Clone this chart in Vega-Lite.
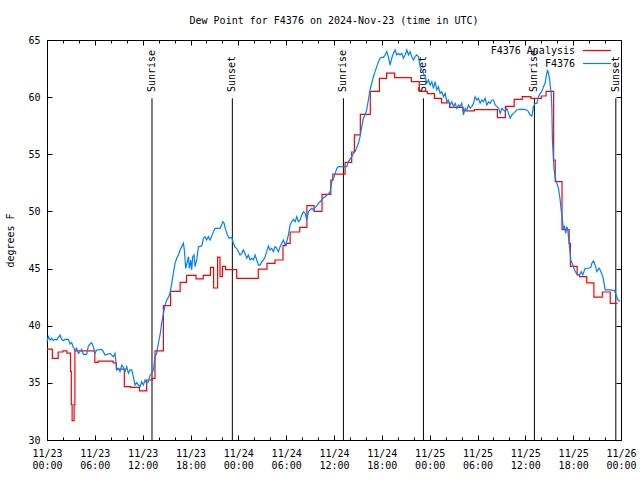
{
  "$schema": "https://vega.github.io/schema/vega-lite/v6.json",
  "width": 574,
  "height": 400,
  "autosize": {"type": "none"},
  "padding": {"left": 47, "top": 40, "right": 19, "bottom": 40},
  "background": "white",
  "title": {"text": "Dew Point for F4376 on 2024-Nov-23 (time in UTC)", "font": "DejaVu Sans Mono", "fontSize": 10, "fontWeight": "normal", "color": "black", "offset": 9},
  "config": {
    "view": {"stroke": "black", "strokeWidth": 1},
    "axis": {"labelFont": "DejaVu Sans Mono", "labelFontSize": 10, "labelColor": "black", "titleFont": "DejaVu Sans Mono", "titleFontSize": 10, "titleFontWeight": "normal", "titleColor": "black", "tickColor": "black", "domain": false, "grid": false, "labelFlush": false, "labelOverlap": false},
    "legend": {"title": null, "orient": "none", "legendX": 535, "symbolType": "stroke", "symbolSize": 784, "symbolStrokeWidth": 1.2, "labelAlign": "right", "labelOffset": -37, "labelFont": "DejaVu Sans Mono", "labelFontSize": 10, "labelColor": "black", "labelLimit": 0}
  },
  "datasets": {
    "obs": [
      {"hours":0,"value":38.6},{"hours":0.17,"value":39.04},{"hours":0.38,"value":38.75},{"hours":0.59,"value":38.9},{"hours":0.79,"value":38.69},{"hours":1.0,"value":38.81},{"hours":1.21,"value":38.75},{"hours":1.42,"value":38.98},{"hours":1.63,"value":39.19},{"hours":1.84,"value":38.81},{"hours":2.05,"value":38.69},{"hours":2.26,"value":38.81},{"hours":2.68,"value":38.81},{"hours":2.89,"value":38.4},{"hours":3.09,"value":38.52},{"hours":3.3,"value":38.11},{"hours":3.51,"value":37.82},{"hours":3.72,"value":38.02},{"hours":3.93,"value":37.58},{"hours":4.14,"value":37.73},{"hours":4.35,"value":37.93},{"hours":4.56,"value":37.5},{"hours":4.98,"value":37.5},{"hours":5.19,"value":38.23},{"hours":5.4,"value":38.4},{"hours":5.6,"value":38.52},{"hours":5.81,"value":38.17},{"hours":6.02,"value":37.58},{"hours":6.23,"value":37.88},{"hours":6.86,"value":37.93},{"hours":7.07,"value":37.73},{"hours":7.28,"value":37.44},{"hours":7.91,"value":37.58},{"hours":8.32,"value":37.29},{"hours":8.53,"value":37.58},{"hours":8.74,"value":36.13},{"hours":8.95,"value":36.27},{"hours":9.16,"value":35.98},{"hours":9.37,"value":36.56},{"hours":9.58,"value":36.36},{"hours":9.79,"value":35.98},{"hours":10.0,"value":36.42},{"hours":10.21,"value":35.83},{"hours":10.42,"value":36.13},{"hours":10.62,"value":36.13},{"hours":10.83,"value":35.54},{"hours":11.04,"value":34.81},{"hours":11.25,"value":35.02},{"hours":11.46,"value":34.81},{"hours":11.67,"value":34.67},{"hours":11.88,"value":35.1},{"hours":12.09,"value":34.81},{"hours":12.3,"value":35.25},{"hours":12.51,"value":34.96},{"hours":12.72,"value":35.1},{"hours":12.93,"value":35.69},{"hours":13.14,"value":35.83},{"hours":13.35,"value":36.13},{"hours":13.55,"value":37.29},{"hours":13.76,"value":37.58},{"hours":13.97,"value":38.46},
      {"hours":14.18,"value":39.19},{"hours":14.38,"value":40.21},{"hours":14.6,"value":41.03},{"hours":14.81,"value":41.81},{"hours":15.02,"value":42.25},{"hours":15.22,"value":42.48},{"hours":15.43,"value":42.83},{"hours":15.64,"value":43.71},{"hours":15.85,"value":44.58},{"hours":16.06,"value":45.46},{"hours":16.27,"value":45.9},{"hours":16.48,"value":46.19},{"hours":16.69,"value":46.63},{"hours":16.9,"value":46.92},{"hours":17.11,"value":47.21},{"hours":17.23,"value":46.63},{"hours":17.4,"value":45.02},{"hours":17.61,"value":45.61},{"hours":17.73,"value":46.04},{"hours":17.86,"value":45.02},{"hours":18.03,"value":45.75},{"hours":18.15,"value":44.88},{"hours":18.28,"value":46.04},{"hours":18.44,"value":46.19},{"hours":18.57,"value":45.17},{"hours":18.78,"value":45.75},{"hours":18.99,"value":46.92},{"hours":19.41,"value":46.98},{"hours":19.62,"value":47.65},{"hours":19.83,"value":47.79},{"hours":20.03,"value":47.5},{"hours":20.24,"value":47.79},{"hours":20.45,"value":47.5},{"hours":20.66,"value":47.85},{"hours":20.87,"value":48.23},{"hours":21.08,"value":48.52},{"hours":21.7,"value":48.52},{"hours":21.91,"value":48.81},{"hours":22.04,"value":49.1},{"hours":22.21,"value":48.96},{"hours":22.42,"value":48.38},{"hours":22.63,"value":47.94},{"hours":22.84,"value":47.65},{"hours":23.17,"value":47.73},{"hours":23.38,"value":47.21},{"hours":23.59,"value":46.86},{"hours":23.8,"value":46.77},{"hours":24.01,"value":46.48},{"hours":24.22,"value":46.19},{"hours":24.43,"value":46.33},{"hours":24.63,"value":46.63},{"hours":24.84,"value":46.33},{"hours":25.05,"value":45.9},{"hours":25.26,"value":46.19},{"hours":25.47,"value":45.75},{"hours":25.68,"value":45.9},{"hours":25.89,"value":45.75},{"hours":26.1,"value":46.19},{"hours":26.31,"value":45.75},{"hours":26.52,"value":45.31},{"hours":26.73,"value":45.31},{"hours":26.94,"value":45.6},{"hours":27.15,"value":45.75},{"hours":27.36,"value":46.04},{"hours":27.56,"value":46.48},{"hours":27.77,"value":46.98},{"hours":27.98,"value":46.63},{"hours":28.19,"value":46.77},{"hours":28.4,"value":46.48},{"hours":28.61,"value":46.92},{"hours":28.82,"value":46.77},{"hours":29.03,"value":46.48},{"hours":29.24,"value":46.92},{"hours":29.45,"value":47.21},{"hours":29.66,"value":47.5},{"hours":29.87,"value":47.06},{"hours":30.08,"value":47.35},{"hours":30.28,"value":47.94},{"hours":30.49,"value":48.81},{"hours":30.7,"value":49.1},{"hours":30.91,"value":49.31},{"hours":31.12,"value":49.1},{"hours":31.33,"value":49.54},{"hours":31.54,"value":49.1},{"hours":31.75,"value":49.25},{"hours":31.96,"value":49.69},{"hours":32.17,"value":49.98},{"hours":32.38,"value":49.83},{"hours":32.59,"value":49.25},{"hours":32.8,"value":49.98},{"hours":33.0,"value":50.13},{"hours":33.21,"value":50.27},{"hours":33.42,"value":50.13},{"hours":33.63,"value":50.36},{"hours":33.84,"value":50.48},{"hours":34.05,"value":50.71},{"hours":34.26,"value":50.85},{"hours":34.47,"value":51.0},{"hours":34.68,"value":51.2},{"hours":34.89,"value":51.29},{"hours":35.1,"value":51.44},{"hours":35.31,"value":51.53},{"hours":35.52,"value":51.73},{"hours":35.73,"value":52.6},{"hours":35.94,"value":52.9},{"hours":36.15,"value":53.33},{"hours":36.36,"value":53.77},{"hours":36.56,"value":53.92},
      {"hours":37.6,"value":53.92},{"hours":37.81,"value":54.36},{"hours":38.23,"value":54.79},{"hours":38.43,"value":55.08},{"hours":38.64,"value":55.23},{"hours":39.06,"value":55.96},{"hours":39.27,"value":56.54},{"hours":39.48,"value":57.42},{"hours":39.69,"value":58.15},{"hours":39.9,"value":58.44},{"hours":40.1,"value":58.88},{"hours":40.31,"value":59.75},{"hours":40.52,"value":60.63},{"hours":40.73,"value":61.21},{"hours":40.94,"value":61.79},{"hours":41.15,"value":62.23},{"hours":41.36,"value":62.67},{"hours":41.57,"value":63.1},{"hours":41.78,"value":63.4},{"hours":41.99,"value":63.48},{"hours":42.2,"value":63.48},{"hours":42.41,"value":63.69},{"hours":42.61,"value":63.98},{"hours":42.82,"value":63.54},{"hours":43.03,"value":62.81},{"hours":43.24,"value":63.4},{"hours":43.45,"value":63.83},{"hours":43.66,"value":64.13},{"hours":43.87,"value":63.69},{"hours":44.08,"value":63.83},{"hours":44.29,"value":63.69},{"hours":44.5,"value":63.83},{"hours":44.71,"value":63.4},{"hours":44.92,"value":63.69},{"hours":45.13,"value":64.13},{"hours":45.34,"value":63.69},{"hours":45.54,"value":63.98},{"hours":45.75,"value":63.54},{"hours":45.96,"value":63.25},{"hours":46.17,"value":63.54},{"hours":46.38,"value":63.69},{"hours":46.59,"value":63.54},{"hours":46.8,"value":62.67},{"hours":47.01,"value":62.38},{"hours":47.22,"value":62.08},{"hours":47.43,"value":61.79},{"hours":47.64,"value":61.21},{"hours":47.85,"value":61.5},{"hours":48.06,"value":61.06},{"hours":48.27,"value":61.35},{"hours":48.47,"value":60.77},{"hours":48.68,"value":61.35},{"hours":48.89,"value":60.63},{"hours":49.1,"value":60.92},{"hours":49.31,"value":60.33},{"hours":49.52,"value":60.48},{"hours":49.73,"value":60.04},{"hours":49.94,"value":60.33},{"hours":50.15,"value":59.6},{"hours":50.36,"value":59.75},{"hours":50.57,"value":59.31},{"hours":50.78,"value":59.6},{"hours":50.99,"value":59.17},{"hours":51.2,"value":59.46},{"hours":51.4,"value":59.02},{"hours":51.61,"value":59.31},{"hours":51.82,"value":59.17},{"hours":52.03,"value":59.46},{"hours":52.24,"value":58.44},{"hours":52.45,"value":59.02},{"hours":52.66,"value":58.88},{"hours":52.87,"value":59.31},{"hours":53.08,"value":59.02},{"hours":53.29,"value":59.17},{"hours":53.5,"value":59.46},{"hours":53.71,"value":60.04},{"hours":53.92,"value":59.75},{"hours":54.12,"value":59.9},{"hours":54.33,"value":59.46},{"hours":54.54,"value":59.75},{"hours":54.75,"value":59.6},{"hours":54.96,"value":59.9},{"hours":55.17,"value":59.31},{"hours":55.38,"value":59.6},{"hours":55.59,"value":59.46},{"hours":55.8,"value":59.75},{"hours":56.01,"value":59.75},{"hours":56.22,"value":59.31},{"hours":56.43,"value":59.17},{"hours":56.64,"value":59.02},{"hours":56.85,"value":58.58},{"hours":57.05,"value":59.02},{"hours":57.26,"value":58.88},{"hours":57.47,"value":58.73},{"hours":57.68,"value":59.02},{"hours":57.89,"value":58.58},{"hours":58.1,"value":58.15},{"hours":58.31,"value":58.44},{"hours":58.52,"value":58.58},{"hours":58.73,"value":58.73},{"hours":58.94,"value":58.88},{"hours":59.36,"value":58.94},
      {"hours":59.76,"value":58.93},{"hours":60.18,"value":58.88},{"hours":60.39,"value":58.73},{"hours":60.6,"value":58.44},{"hours":60.81,"value":58.35},{"hours":61.02,"value":59.17},{"hours":61.23,"value":59.46},{"hours":61.44,"value":59.46},{"hours":61.65,"value":60.04},{"hours":61.86,"value":60.33},{"hours":62.07,"value":60.48},{"hours":62.28,"value":60.92},{"hours":62.48,"value":61.21},{"hours":62.61,"value":61.79},{"hours":62.78,"value":62.38},{"hours":62.9,"value":62.08},{"hours":63.03,"value":61.65},{"hours":63.11,"value":61.06},{"hours":63.24,"value":60.33},{"hours":63.32,"value":59.17},{"hours":63.4,"value":56.25},{"hours":63.53,"value":54.5},{"hours":63.61,"value":53.63},{"hours":63.74,"value":53.04},{"hours":63.86,"value":52.61},{"hours":64.03,"value":52.31},{"hours":64.16,"value":52.02},{"hours":64.28,"value":51.44},{"hours":64.37,"value":51.0},{"hours":64.45,"value":50.42},{"hours":64.57,"value":49.69},{"hours":64.7,"value":48.96},{"hours":64.78,"value":48.52},{"hours":64.91,"value":48.67},{"hours":65.08,"value":48.09},{"hours":65.2,"value":48.67},{"hours":65.33,"value":48.38},{"hours":65.45,"value":47.5},{"hours":65.54,"value":46.92},{"hours":65.7,"value":45.76},{"hours":65.96,"value":45.32},{"hours":66.17,"value":44.88},{"hours":66.46,"value":44.53},{"hours":66.79,"value":44.44},{"hours":67.0,"value":44.74},{"hours":67.2,"value":44.44},{"hours":67.5,"value":45.03},{"hours":67.92,"value":45.03},{"hours":68.21,"value":45.11},{"hours":68.34,"value":45.46},{"hours":68.55,"value":45.67},{"hours":68.76,"value":45.32},{"hours":68.97,"value":44.74},{"hours":69.26,"value":45.03},{"hours":69.47,"value":44.74},{"hours":69.72,"value":44.3},{"hours":70.02,"value":43.13},{"hours":70.64,"value":43.13},{"hours":71.18,"value":43.07},{"hours":71.39,"value":42.69},{"hours":71.6,"value":42.26},{"hours":71.9,"value":42.11}
    ],
    "analysis": [
      {"hours":0,"value":37.95},{"hours":0.67,"value":37.15},{"hours":1.4,"value":37.7},{"hours":2.0,"value":37.8},{"hours":2.5,"value":37.6},{"hours":2.95,"value":36.0},{"hours":3.05,"value":33.1},{"hours":3.15,"value":31.7},{"hours":3.4,"value":33.1},{"hours":3.5,"value":37.8},{"hours":6.0,"value":36.8},{"hours":6.4,"value":36.9},{"hours":8.3,"value":36.75},{"hours":8.7,"value":36.2},{"hours":9.7,"value":34.67},{"hours":10.5,"value":34.6},{"hours":11.6,"value":34.3},{"hours":12.5,"value":35.25},{"hours":13.2,"value":35.4},{"hours":13.55,"value":37.8},{"hours":14.6,"value":41.75},{"hours":15.5,"value":43.0},{"hours":16.7,"value":43.8},{"hours":17.5,"value":44.4},{"hours":18.7,"value":44.1},{"hours":19.6,"value":44.4},{"hours":20.5,"value":45.1},{"hours":20.9,"value":43.3},{"hours":21.4,"value":46.0},{"hours":21.7,"value":44.3},{"hours":22.0,"value":45.2},{"hours":22.4,"value":44.9},{"hours":23.8,"value":44.15},{"hours":26.5,"value":44.95},{"hours":27.6,"value":45.45},{"hours":28.6,"value":45.75},{"hours":29.6,"value":47.0},{"hours":30.0,"value":47.2},{"hours":30.5,"value":48.2},{"hours":31.7,"value":48.6},{"hours":32.6,"value":50.5},{"hours":33.5,"value":50.0},{"hours":34.5,"value":51.5},{"hours":35.6,"value":52.75},{"hours":35.85,"value":53.27},{"hours":37.39,"value":54.3},{"hours":38.22,"value":55.2},{"hours":38.56,"value":56.7},{"hours":39.3,"value":58.5},{"hours":40.55,"value":60.5},{"hours":41.7,"value":61.65},{"hours":42.6,"value":62.1},{"hours":43.6,"value":61.7},{"hours":45.7,"value":61.35},{"hours":46.7,"value":60.5},{"hours":47.7,"value":60.3},{"hours":48.6,"value":59.9},{"hours":49.5,"value":59.5},{"hours":50.5,"value":59.1},{"hours":52.2,"value":58.8},{"hours":53.6,"value":58.9},{"hours":56.5,"value":58.2},{"hours":57.5,"value":59.2},{"hours":58.6,"value":59.8},{"hours":59.6,"value":60.05},{"hours":60.7,"value":59.9},{"hours":62.0,"value":60.1},{"hours":62.6,"value":60.5},{"hours":63.55,"value":54.5},{"hours":63.75,"value":52.6},{"hours":64.6,"value":48.4},{"hours":65.5,"value":47.2},{"hours":65.65,"value":45.2},{"hours":66.5,"value":44.45},{"hours":66.8,"value":44.3},{"hours":67.7,"value":43.75},{"hours":68.6,"value":42.5},{"hours":69.65,"value":42.95},{"hours":70.65,"value":41.95},{"hours":71.56,"value":41.95}
    ],
    "sun": [
      {"event":"Sunrise","hours":13.17},{"event":"Sunset","hours":23.25},{"event":"Sunrise","hours":37.18},{"event":"Sunset","hours":47.22},{"event":"Sunrise","hours":61.14},{"event":"Sunset","hours":71.35}
    ]
  },
  "resolve": {"axis": {"x": "independent", "y": "independent"}, "scale": {"stroke": "independent"}, "legend": {"stroke": "independent"}},
  "layer": [
    {
      "data": {"name": "sun"},
      "mark": {"type": "rule", "color": "black", "strokeWidth": 1},
      "encoding": {
        "x": {"field": "hours", "type": "quantitative", "scale": {"domain": [0, 72], "nice": false, "zero": false},
              "axis": {"orient": "top", "values": [0,6,12,18,24,30,36,42,48,54,60,66,72], "tickSize": -5, "labels": false, "title": null}},
        "y": {"datum": 30, "type": "quantitative", "scale": {"domain": [30, 65], "nice": false, "zero": false}, "axis": null},
        "y2": {"datum": 59.9}
      }
    },
    {
      "data": {"name": "sun"},
      "mark": {"type": "text", "angle": 270, "align": "left", "baseline": "middle", "font": "DejaVu Sans Mono", "fontSize": 10, "color": "black"},
      "encoding": {
        "x": {"field": "hours", "type": "quantitative",
              "axis": {"orient": "top", "values": [2,4,8,10,14,16,20,22,26,28,32,34,38,40,44,46,50,52,56,58,62,64,68,70], "tickSize": -3, "labels": false, "title": null}},
        "y": {"datum": 60.45, "type": "quantitative", "axis": null},
        "text": {"field": "event"}
      }
    },
    {
      "data": {"name": "analysis"},
      "mark": {"type": "line", "interpolate": "step-after", "strokeWidth": 1.2},
      "encoding": {
        "x": {"field": "hours", "type": "quantitative",
              "axis": {"orient": "bottom", "values": [2,4,8,10,14,16,20,22,26,28,32,34,38,40,44,46,50,52,56,58,62,64,68,70], "tickSize": -3, "labels": false, "title": null}},
        "y": {"field": "value", "type": "quantitative",
              "axis": {"orient": "right", "values": [30,35,40,45,50,55,60,65], "tickSize": -5, "labels": false, "title": null}},
        "stroke": {"datum": "F4376 Analysis", "type": "nominal", "scale": {"domain": ["F4376 Analysis"], "range": ["#ff0000"]},
                   "legend": {"legendY": -4.5, "symbolStrokeColor": "#ff0000"}}
      }
    },
    {
      "data": {"name": "obs"},
      "mark": {"type": "line", "strokeWidth": 1.2},
      "encoding": {
        "x": {"field": "hours", "type": "quantitative",
              "axis": {"orient": "bottom", "values": [0,6,12,18,24,30,36,42,48,54,60,66,72], "tickSize": -5, "labelPadding": 13, "labelLineHeight": 12,
                       "labelExpr": "['11/' + (23 + floor(datum.value / 24)), (datum.value % 24 < 10 ? '0' : '') + (datum.value % 24) + ':00']", "title": null}},
        "y": {"field": "value", "type": "quantitative",
              "axis": {"orient": "left", "values": [30,35,40,45,50,55,60,65], "tickSize": -5, "labelPadding": 12, "title": "degrees F", "titlePadding": 12}},
        "stroke": {"datum": "F4376", "type": "nominal", "scale": {"domain": ["F4376"], "range": ["#0080ff"]},
                   "legend": {"legendY": 8.5, "symbolStrokeColor": "#0080ff"}}
      }
    }
  ]
}
